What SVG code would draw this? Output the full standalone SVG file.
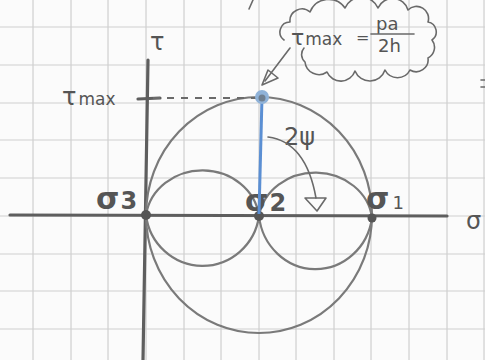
<svg xmlns="http://www.w3.org/2000/svg" width="485" height="360" viewBox="0 0 485 360">
<style>
.grid{stroke:#cfcfcf;stroke-width:1.2;fill:none}
.axis{stroke:#5e5e5e;stroke-width:3.2;fill:none;stroke-linecap:round}
.circ{stroke:#7a7a7a;stroke-width:2.2;fill:none}
.pen{stroke:#6a6a6a;stroke-width:1.6;fill:none;stroke-linecap:round;stroke-linejoin:round}
.lbl{font-family:"DejaVu Sans","Liberation Sans",sans-serif;fill:#555}
.dot{fill:#555}
</style>
<rect width="485" height="360" fill="#fbfbfb"/>
<g id="grid">
<path class="grid" d="M33 0V360M71 0V360M108 0V360M146 0V360M184 0V360M221 0V360M259 0V360M296 0V360M334 0V360M371 0V360M409 0V360M447 0V360M484 0V360"/>
<path class="grid" d="M0 27H485M0 65H485M0 103H485M0 140H485M0 178H485M0 216H485M0 254H485M0 291H485M0 329H485"/>
</g>
<g id="axes">
<path class="axis" d="M10 215L447 216"/>
<path class="axis" d="M148 60L143 360"/>
<path class="axis" d="M138 99L160 98" stroke-width="2.4"/>
<text class="lbl" x="150" y="50" font-size="24">τ</text>
<text class="lbl" x="466" y="229" font-size="24">σ</text>
</g>
<g id="circles">
<ellipse class="circ" cx="259" cy="215" rx="113" ry="118"/>
<path class="circ" d="M146 215A57 52 0 0 1 259 216A57 58 0 0 1 146 215Z"/>
<path class="circ" d="M259 216A57 51 0 0 1 372 218A57 60 0 0 1 259 216Z"/>
</g>
<g id="sigma3">
<circle class="dot" cx="146" cy="215" r="5"/>
<text class="lbl" x="96" y="209" font-size="30" font-weight="bold">σ<tspan font-size="24" dx="1">3</tspan></text>
</g>
<g id="sigma2">
<circle class="dot" cx="259" cy="216" r="5"/>
<text class="lbl" x="245" y="211" font-size="30" font-weight="bold">σ<tspan font-size="24" dx="1">2</tspan></text>
</g>
<g id="sigma1">
<circle class="dot" cx="372" cy="218" r="4.5"/>
<text class="lbl" x="366" y="209" font-size="30" font-weight="bold">σ<tspan font-size="18" font-weight="normal" dx="3">1</tspan></text>
</g>
<g id="taumax">
<text class="lbl" x="62" y="105" font-size="24">τ<tspan font-size="17" dx="2">max</tspan></text>
<path d="M153 98H256" stroke="#6a6a6a" stroke-width="2" stroke-dasharray="7 7"/>
<path d="M262 97L259 214" stroke="#5b8fd3" stroke-width="3" fill="none"/>
<circle cx="262" cy="97" r="7" fill="#8fb2d8"/>
<circle cx="262" cy="98" r="3.5" fill="#6f7f90"/>
</g>
<g id="note">
<path class="pen" d="M284 40a10 10 0 0 1 6-18a12 12 0 0 1 20-10a20 20 0 0 1 35-4a18 18 0 0 1 33 0a16 16 0 0 1 30 2a12 12 0 0 1 20 12a10 10 0 0 1 4 18a12 12 0 0 1-4 18a12 12 0 0 1-18 12a14 14 0 0 1-25 0a16 16 0 0 1-30 1a15 15 0 0 1-28 1a14 14 0 0 1-22-10a10 10 0 0 1-1-14"/>
<text class="lbl" x="291" y="45" font-size="22">τ<tspan font-size="17" dx="1">max</tspan></text>
<text class="lbl" x="356" y="43" font-size="16">=</text>
<text class="lbl" x="376" y="30" font-size="18">pa</text>
<path class="pen" d="M371 34H414" stroke-width="2"/>
<text class="lbl" x="378" y="52" font-size="18">2h</text>
</g>
<g id="label-2psi">
<text class="lbl" x="284" y="145" font-size="24">2ψ</text>
</g>
<g id="connectors">
<path class="pen" d="M290 48L265 81"/>
<path class="pen" d="M262 85L278 78L268 70Z"/>
<path class="pen" d="M268 137Q306 142 316 198"/>
<path class="pen" d="M305 198L326 198L317 211Z"/>
</g>
<g id="marks">
<path class="pen" d="M253 0L249 9"/>
<path class="pen" d="M481 80H485M481 87H485"/>
</g>
</svg>
